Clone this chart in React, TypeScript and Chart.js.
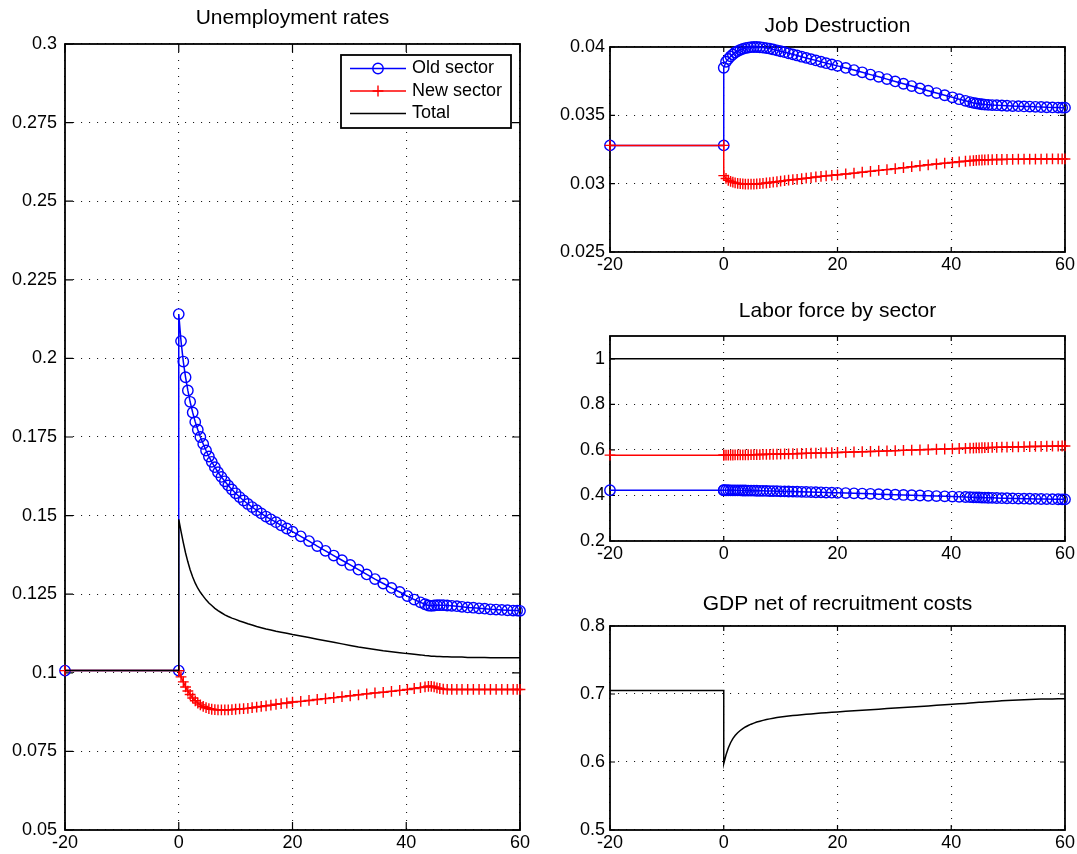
import React, { useEffect, useRef } from 'react';
import { Chart, registerables } from 'chart.js';

Chart.register(...registerables);

const W = 1077;
const H = 854;
const FONT = '"Liberation Sans", Arial, Helvetica, sans-serif';
const BLUE = '#0000ff';
const RED = '#ff0000';
const BLACK = '#000000';

// ---------- data ----------
const X_TICKS = [-20, 0, 20, 40, 60];
const PRE_X = [-20, 0];
const T = [
  0, 0.4, 0.8, 1.2, 1.6, 2.0, 2.45, 2.9, 3.35, 3.8,
  4.3, 4.8, 5.3, 5.8, 6.35, 6.9, 7.5, 8.1, 8.7, 9.35,
  10.0, 10.7, 11.4, 12.15, 12.9, 13.7, 14.5, 15.35, 16.2, 17.1,
  18.0, 19.0, 20.0, 21.45, 22.9, 24.35, 25.8, 27.25, 28.7, 30.15,
  31.6, 33.05, 34.5, 35.95, 37.4, 38.85, 40.2, 41.4, 42.5, 43.3,
  43.9, 44.4, 44.9, 45.4, 45.9, 46.5, 47.2, 48.0, 48.9, 49.8,
  50.8, 51.8, 52.8, 53.8, 54.8, 55.8, 56.8, 57.8, 58.8, 59.5,
  60,
];

// Unemployment rates
const UR_TICKS = [0.05, 0.075, 0.1, 0.125, 0.15, 0.175, 0.2, 0.225, 0.25, 0.275, 0.3];
const UR_PRE_OLD = [0.1007, 0.1007];
const UR_OLD = [
  0.2141, 0.2055, 0.1990, 0.1940, 0.1898, 0.1862, 0.1828, 0.1798, 0.1773, 0.1750,
  0.1728, 0.1707, 0.1688, 0.1671, 0.1654, 0.1638, 0.1623, 0.1609, 0.1596, 0.1583,
  0.1571, 0.1559, 0.1548, 0.1537, 0.1527, 0.1517, 0.1507, 0.1497, 0.1488, 0.1479,
  0.1469, 0.1459, 0.1449, 0.1434, 0.1419, 0.1403, 0.1388, 0.1373, 0.1358, 0.1343,
  0.1328, 0.1313, 0.1298, 0.1284, 0.1270, 0.1257, 0.1244, 0.1233, 0.1224, 0.1218,
  0.1214, 0.1213, 0.1214, 0.1215, 0.1215, 0.1215, 0.1214, 0.1213, 0.1212, 0.1210,
  0.1208, 0.1207, 0.1205, 0.1204, 0.1202, 0.1201, 0.1200, 0.1199, 0.1198, 0.1198,
  0.1197,
];
const UR_PRE_NEW = [0.1007, 0.1007];
const UR_NEW = [
  0.1007, 0.0987, 0.0971, 0.0955, 0.0942, 0.0931, 0.0920, 0.0911, 0.0904, 0.0898,
  0.0893, 0.0889, 0.0886, 0.0884, 0.0883, 0.0882, 0.0882, 0.0882, 0.0882, 0.0883,
  0.0884, 0.0885, 0.0886, 0.0887, 0.0889, 0.0891, 0.0893, 0.0895, 0.0897, 0.0900,
  0.0902, 0.0904, 0.0907, 0.0909, 0.0912, 0.0915, 0.0918, 0.0921, 0.0924, 0.0927,
  0.0930, 0.0933, 0.0936, 0.0938, 0.0941, 0.0944, 0.0947, 0.0950, 0.0953, 0.0955,
  0.0957, 0.0957, 0.0955, 0.0952, 0.0950, 0.0948, 0.0947, 0.0947, 0.0947, 0.0947,
  0.0947, 0.0947, 0.0947, 0.0947, 0.0947, 0.0947, 0.0947, 0.0947, 0.0947, 0.0947,
  0.0947,
];
const UR_PRE_TOTAL = [0.1007, 0.1007];
const UR_TOTAL = [
  0.1488, 0.1450, 0.1414, 0.1381, 0.1353, 0.1328, 0.1305, 0.1285, 0.1269, 0.1256,
  0.1244, 0.1232, 0.1222, 0.1214, 0.1205, 0.1198, 0.1191, 0.1184, 0.1179, 0.1174,
  0.1170, 0.1165, 0.1161, 0.1156, 0.1152, 0.1147, 0.1143, 0.1139, 0.1136, 0.1132,
  0.1129, 0.1126, 0.1122, 0.1117, 0.1112, 0.1107, 0.1102, 0.1097, 0.1092, 0.1087,
  0.1082, 0.1078, 0.1074, 0.1070, 0.1067, 0.1064, 0.1061, 0.1059, 0.1057, 0.1055,
  0.1054, 0.1053, 0.1053, 0.1052, 0.1052, 0.1051, 0.1051, 0.1050, 0.1050, 0.1050,
  0.1049, 0.1049, 0.1049, 0.1049, 0.1048, 0.1048, 0.1048, 0.1048, 0.1048, 0.1048,
  0.1048,
];

// Job destruction
const JD_TICKS = [0.025, 0.03, 0.035, 0.04];
const JD_PRE_OLD = [0.0328, 0.0328];
const JD_OLD = [
  0.03848, 0.03892, 0.03913, 0.03931, 0.03946, 0.03960, 0.03970, 0.03979, 0.03986, 0.03992,
  0.03996, 0.03999, 0.04000, 0.04000, 0.03998, 0.03996, 0.03992, 0.03988, 0.03982, 0.03976,
  0.03969, 0.03962, 0.03954, 0.03946, 0.03938, 0.03929, 0.03920, 0.03911, 0.03902, 0.03892,
  0.03882, 0.03872, 0.03862, 0.03847, 0.03831, 0.03815, 0.03798, 0.03782, 0.03765, 0.03748,
  0.03731, 0.03714, 0.03697, 0.03680, 0.03663, 0.03647, 0.03632, 0.03618, 0.03606, 0.03597,
  0.03591, 0.03587, 0.03584, 0.03581, 0.03579, 0.03577, 0.03575, 0.03574, 0.03572, 0.03570,
  0.03568, 0.03567, 0.03565, 0.03564, 0.03562, 0.03561, 0.03559, 0.03558, 0.03557, 0.03556,
  0.03556,
];
const JD_PRE_NEW = [0.0328, 0.0328];
const JD_NEW = [
  0.03059, 0.03038, 0.03025, 0.03017, 0.03011, 0.03006, 0.03002, 0.03000, 0.02998, 0.02997,
  0.02996, 0.02996, 0.02997, 0.02998, 0.03000, 0.03002, 0.03005, 0.03008, 0.03011, 0.03014,
  0.03018, 0.03022, 0.03026, 0.03029, 0.03032, 0.03036, 0.03040, 0.03044, 0.03049, 0.03053,
  0.03057, 0.03061, 0.03065, 0.03071, 0.03077, 0.03084, 0.03090, 0.03097, 0.03103, 0.03110,
  0.03117, 0.03124, 0.03131, 0.03138, 0.03144, 0.03150, 0.03155, 0.03160, 0.03164, 0.03167,
  0.03169, 0.03171, 0.03172, 0.03173, 0.03174, 0.03175, 0.03176, 0.03177, 0.03177, 0.03178,
  0.03178, 0.03179, 0.03179, 0.03180, 0.03180, 0.03180, 0.03181, 0.03181, 0.03181, 0.03181,
  0.03181,
];

// Labor force by sector
const LF_TICKS = [0.2, 0.4, 0.6, 0.8, 1];
const LF_PRE_OLD = [0.4230, 0.4230];
const LF_OLD = [
  0.4230, 0.4229, 0.4228, 0.4226, 0.4225, 0.4223, 0.4222, 0.4220, 0.4218, 0.4216,
  0.4214, 0.4212, 0.4209, 0.4207, 0.4204, 0.4201, 0.4198, 0.4194, 0.4191, 0.4187,
  0.4183, 0.4178, 0.4174, 0.4169, 0.4164, 0.4159, 0.4153, 0.4147, 0.4141, 0.4135,
  0.4128, 0.4121, 0.4114, 0.4103, 0.4092, 0.4080, 0.4069, 0.4057, 0.4045, 0.4033,
  0.4021, 0.4009, 0.3997, 0.3985, 0.3973, 0.3961, 0.3950, 0.3940, 0.3931, 0.3924,
  0.3919, 0.3915, 0.3911, 0.3907, 0.3903, 0.3899, 0.3894, 0.3888, 0.3882, 0.3876,
  0.3870, 0.3864, 0.3859, 0.3854, 0.3849, 0.3844, 0.3840, 0.3836, 0.3832, 0.3829,
  0.3828,
];
const LF_PRE_NEW = [0.5770, 0.5770];
const LF_NEW = [
  0.5770, 0.5771, 0.5772, 0.5774, 0.5775, 0.5777, 0.5778, 0.5780, 0.5782, 0.5784,
  0.5786, 0.5788, 0.5791, 0.5793, 0.5796, 0.5799, 0.5802, 0.5806, 0.5809, 0.5813,
  0.5817, 0.5822, 0.5826, 0.5831, 0.5836, 0.5841, 0.5847, 0.5853, 0.5859, 0.5865,
  0.5872, 0.5879, 0.5886, 0.5897, 0.5908, 0.5920, 0.5931, 0.5943, 0.5955, 0.5967,
  0.5979, 0.5991, 0.6003, 0.6015, 0.6027, 0.6039, 0.6050, 0.6060, 0.6069, 0.6076,
  0.6081, 0.6085, 0.6089, 0.6093, 0.6097, 0.6101, 0.6106, 0.6112, 0.6118, 0.6124,
  0.6130, 0.6136, 0.6141, 0.6146, 0.6151, 0.6156, 0.6160, 0.6164, 0.6168, 0.6171,
  0.6172,
];
const LF_TOTAL_X = [-20, 60];
const LF_TOTAL = [1, 1];

// GDP net of recruitment costs
const GDP_TICKS = [0.5, 0.6, 0.7, 0.8];
const GDP_PRE = [0.7053, 0.7053];
const GDP = [
  0.5976, 0.6105, 0.6205, 0.6283, 0.6343, 0.6390, 0.6430, 0.6463, 0.6491, 0.6515,
  0.6537, 0.6556, 0.6572, 0.6587, 0.6600, 0.6612, 0.6624, 0.6634, 0.6644, 0.6653,
  0.6661, 0.6669, 0.6676, 0.6683, 0.6689, 0.6695, 0.6701, 0.6707, 0.6713, 0.6719,
  0.6725, 0.6731, 0.6737, 0.6745, 0.6753, 0.6761, 0.6769, 0.6777, 0.6785, 0.6793,
  0.6801, 0.6809, 0.6817, 0.6825, 0.6833, 0.6841, 0.6849, 0.6856, 0.6862, 0.6867,
  0.6871, 0.6874, 0.6877, 0.6880, 0.6883, 0.6887, 0.6891, 0.6895, 0.6900, 0.6904,
  0.6909, 0.6913, 0.6917, 0.6920, 0.6923, 0.6925, 0.6927, 0.6928, 0.6929, 0.6930,
  0.6930,
];

// ---------- helpers ----------
const FULL_X = [...PRE_X, ...T];
const pts = (xs: number[], ys: number[]) => xs.map((x, i) => ({ x, y: ys[i] }));

function marked(label: string, color: string, style: string, data: any[], order: number) {
  return {
    label,
    data,
    borderColor: color,
    backgroundColor: color,
    borderWidth: 1.5,
    pointStyle: style,
    pointRadius: style === 'circle' ? 5.2 : 5.4,
    pointBorderWidth: 1.4,
    pointBorderColor: color,
    pointBackgroundColor: 'rgba(0,0,0,0)',
    tension: 0,
    fill: false,
    clip: false,
    order,
  };
}
function plain(label: string, color: string, data: any[], order: number) {
  return {
    label,
    data,
    borderColor: color,
    backgroundColor: color,
    borderWidth: 1.5,
    pointRadius: 0,
    tension: 0,
    fill: false,
    clip: false,
    order,
  };
}

type Spec = {
  title: string;
  frame: { l: number; r: number; t: number; b: number };
  titleY: number;
  yMin: number;
  yMax: number;
  yTicks: number[];
  yPad: number;
  tickLen: number;
  legend?: boolean;
  datasets: any[];
};

const PANELS: Spec[] = [
  {
    title: 'Unemployment rates',
    frame: { l: 65, r: 520, t: 44, b: 830 },
    titleY: 18.4,
    yMin: 0.05, yMax: 0.3, yTicks: UR_TICKS, yPad: 8, tickLen: 8, legend: true,
    datasets: [
      marked('Old sector', BLUE, 'circle', pts(FULL_X, [...UR_PRE_OLD, ...UR_OLD]), 3),
      marked('New sector', RED, 'cross', pts(FULL_X, [...UR_PRE_NEW, ...UR_NEW]), 2),
      plain('Total', BLACK, pts(FULL_X, [...UR_PRE_TOTAL, ...UR_TOTAL]), 1),
    ],
  },
  {
    title: 'Job Destruction',
    frame: { l: 610, r: 1066, t: 47, b: 252 },
    titleY: 26.5,
    yMin: 0.025, yMax: 0.04, yTicks: JD_TICKS, yPad: 5, tickLen: 5,
    datasets: [
      marked('Old sector', BLUE, 'circle', pts(FULL_X, [...JD_PRE_OLD, ...JD_OLD]), 3),
      marked('New sector', RED, 'cross', pts(FULL_X, [...JD_PRE_NEW, ...JD_NEW]), 2),
    ],
  },
  {
    title: 'Labor force by sector',
    frame: { l: 610, r: 1066, t: 336, b: 541 },
    titleY: 311.4,
    yMin: 0.2, yMax: 1.1, yTicks: LF_TICKS, yPad: 5, tickLen: 5,
    datasets: [
      marked('Old sector', BLUE, 'circle', pts(FULL_X, [...LF_PRE_OLD, ...LF_OLD]), 3),
      marked('New sector', RED, 'cross', pts(FULL_X, [...LF_PRE_NEW, ...LF_NEW]), 2),
      plain('Total', BLACK, pts(LF_TOTAL_X, LF_TOTAL), 1),
    ],
  },
  {
    title: 'GDP net of recruitment costs',
    frame: { l: 610, r: 1066, t: 626, b: 830 },
    titleY: 604.4,
    yMin: 0.5, yMax: 0.8, yTicks: GDP_TICKS, yPad: 5, tickLen: 5,
    datasets: [plain('GDP', BLACK, pts(FULL_X, [...GDP_PRE, ...GDP]), 1)],
  },
];

const framePlugin = (tickLen: number) => ({
  id: 'matlabFrame',
  beforeDatasetsDraw(chart: any) {
    const { ctx, chartArea: a, scales } = chart;
    ctx.save();
    ctx.strokeStyle = BLACK;
    ctx.lineWidth = 1.8;
    ctx.strokeRect(a.left, a.top, a.right - a.left, a.bottom - a.top);
    ctx.lineWidth = 1.2;
    ctx.beginPath();
    scales.x.ticks.forEach((t: any) => {
      const px = scales.x.getPixelForValue(t.value);
      ctx.moveTo(px, a.bottom);
      ctx.lineTo(px, a.bottom - tickLen);
      ctx.moveTo(px, a.top);
      ctx.lineTo(px, a.top + tickLen);
    });
    scales.y.ticks.forEach((t: any) => {
      const py = scales.y.getPixelForValue(t.value);
      ctx.moveTo(a.left, py);
      ctx.lineTo(a.left + tickLen, py);
      ctx.moveTo(a.right, py);
      ctx.lineTo(a.right - tickLen, py);
    });
    ctx.stroke();
    ctx.restore();
  },
});

const legendPlugin = {
  id: 'matlabLegend',
  afterDraw(chart: any) {
    const { ctx, chartArea: a } = chart;
    const w = 170;
    const h = 73;
    const x0 = a.right - 9 - w;
    const y0 = a.top + 11;
    ctx.save();
    ctx.fillStyle = '#ffffff';
    ctx.fillRect(x0, y0, w, h);
    ctx.strokeStyle = BLACK;
    ctx.lineWidth = 1.8;
    ctx.strokeRect(x0, y0, w, h);
    chart.data.datasets.forEach((ds: any, i: number) => {
      const cy = y0 + 13.5 + i * 22.5;
      ctx.strokeStyle = ds.borderColor;
      ctx.lineWidth = ds.borderWidth;
      ctx.beginPath();
      ctx.moveTo(x0 + 9, cy);
      ctx.lineTo(x0 + 65, cy);
      ctx.stroke();
      const mx = x0 + 37;
      if (ds.pointRadius > 0) {
        ctx.lineWidth = ds.pointBorderWidth;
        ctx.beginPath();
        if (ds.pointStyle === 'circle') {
          ctx.arc(mx, cy, ds.pointRadius, 0, Math.PI * 2);
        } else {
          ctx.moveTo(mx - ds.pointRadius, cy);
          ctx.lineTo(mx + ds.pointRadius, cy);
          ctx.moveTo(mx, cy - ds.pointRadius);
          ctx.lineTo(mx, cy + ds.pointRadius);
        }
        ctx.stroke();
      }
      ctx.fillStyle = BLACK;
      ctx.font = `18px ${FONT}`;
      ctx.textAlign = 'left';
      ctx.textBaseline = 'middle';
      ctx.fillText(ds.label, x0 + 71, cy);
    });
    ctx.restore();
  },
};

function makeChart(canvas: HTMLCanvasElement, spec: Spec) {
  const { l, r, t, b } = spec.frame;
  const titleSize = 21;
  const titleLH = titleSize * 1.2;
  const padTop = spec.titleY - titleLH / 2;
  const titleBottom = t - padTop - titleLH;
  const yW = 60;
  const xH = 24;
  const gridCommon = {
    color: 'rgba(0,0,0,0.9)',
    lineWidth: 1.1,
    drawTicks: false,
    borderDash: [1.1, 6.9],
  };
  const tickFont = { size: 18, family: FONT, weight: 'normal' as const };
  return new Chart(canvas, {
    type: 'line',
    data: { datasets: spec.datasets },
    options: {
      animation: false,
      responsive: false,
      maintainAspectRatio: false,
      events: [],
      layout: {
        padding: { left: l - yW, right: W - r, top: padTop, bottom: H - b - xH },
      },
      plugins: {
        legend: { display: false },
        tooltip: { enabled: false },
        title: {
          display: true,
          text: spec.title,
          fullSize: false,
          color: BLACK,
          font: { size: titleSize, family: FONT, weight: 'normal', lineHeight: 1.2 },
          padding: { top: 0, bottom: titleBottom },
        },
      },
      scales: {
        x: {
          type: 'linear',
          min: -20,
          max: 60,
          afterBuildTicks: (s: any) => {
            s.ticks = X_TICKS.map((v) => ({ value: v }));
          },
          afterFit: (s: any) => {
            s.height = xH;
          },
          ticks: {
            autoSkip: false,
            maxRotation: 0,
            padding: 2,
            color: BLACK,
            font: tickFont,
            callback: (v: any) => String(v),
          },
          grid: gridCommon,
          border: { display: false, dash: [1.1, 6.9] },
        },
        y: {
          type: 'linear',
          min: spec.yMin,
          max: spec.yMax,
          afterBuildTicks: (s: any) => {
            s.ticks = spec.yTicks.map((v) => ({ value: v }));
          },
          afterFit: (s: any) => {
            s.width = yW;
          },
          ticks: {
            autoSkip: false,
            padding: spec.yPad,
            color: BLACK,
            font: tickFont,
            callback: (v: any) => String(v),
          },
          grid: gridCommon,
          border: { display: false, dash: [1.1, 6.9] },
        },
      },
    } as any,
    plugins: [framePlugin(spec.tickLen), ...(spec.legend ? [legendPlugin] : [])],
  });
}

function Panel({ spec }: { spec: Spec }) {
  const ref = useRef<HTMLCanvasElement | null>(null);
  useEffect(() => {
    if (!ref.current) return;
    const chart = makeChart(ref.current, spec);
    return () => chart.destroy();
  }, [spec]);
  return (
    <canvas
      ref={ref}
      width={W}
      height={H}
      style={{ position: 'absolute', left: 0, top: 0, width: W, height: H }}
    />
  );
}

export default function App() {
  return (
    <div
      style={{
        position: 'absolute',
        left: 0,
        top: 0,
        width: W,
        height: H,
        background: '#ffffff',
        overflow: 'hidden',
      }}
    >
      {PANELS.map((p) => (
        <Panel key={p.title} spec={p} />
      ))}
    </div>
  );
}
